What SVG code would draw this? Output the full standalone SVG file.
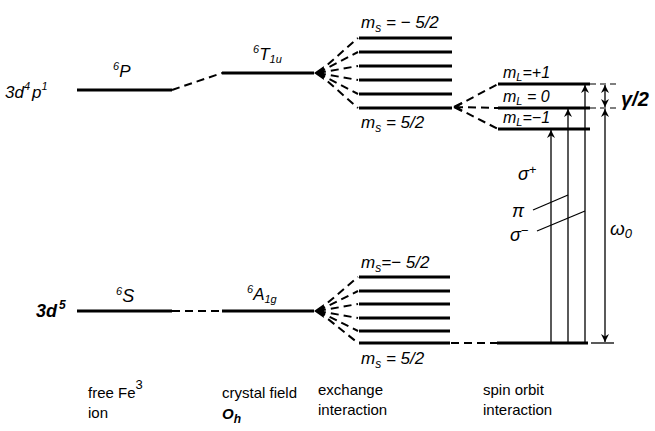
<svg xmlns="http://www.w3.org/2000/svg" width="655" height="431" viewBox="0 0 655 431">
<defs>
<marker id="ah" viewBox="0 0 10 10" refX="10" refY="5" markerWidth="8" markerHeight="8" markerUnits="userSpaceOnUse" orient="auto-start-reverse">
<path d="M0,0 L10,5 L0,10 L3,5 Z" fill="#000"/>
</marker>
</defs>
<style>
.lvl{stroke:#000;stroke-width:3.2;fill:none}
.lvl2{stroke:#000;stroke-width:3;fill:none}
.dash{stroke:#000;stroke-width:2;fill:none;stroke-dasharray:8 5}
.thin{stroke:#000;stroke-width:1.3;fill:none}
.tdash{stroke:#000;stroke-width:1.1;fill:none;stroke-dasharray:6 4}
.arr{stroke:#000;stroke-width:1.3;fill:none;marker-end:url(#ah)}
.arr2{stroke:#000;stroke-width:1.3;fill:none;marker-end:url(#ah);marker-start:url(#ah)}
.hl{font-family:"Liberation Sans",Arial,sans-serif;font-style:italic;fill:#000}
.cap{font-family:"Liberation Sans",Arial,sans-serif;font-size:15px;fill:#000}
.tip{fill:#000}
</style>

<g id="connectors">
<path class="dash" d="M172,90 L222,73"/>
<path class="dash" d="M172,311 L222,311"/>
<path class="dash" d="M318,73 L358,38 M318,73 L358,52 M318,73 L358,66 M318,73 L358,80 M318,73 L358,94 M318,73 L358,108"/>
<path class="dash" d="M318,311 L358,277 M318,311 L358,291 M318,311 L358,304 M318,311 L358,318 M318,311 L358,331 M318,311 L358,343"/>
<path class="dash" d="M455,107 L498,84 M455,107 L498,108 M455,107 L498,129"/>
<path class="dash" d="M451,343 L497,343"/>
<path class="tdash" d="M590,84 L618,84 M590,108 L618,108"/>
<path class="thin" d="M591,343 L614,343"/>
<path class="arr" d="M551,343 L551,130"/>
<path class="arr" d="M568,343 L568,109"/>
<path class="arr" d="M585,343 L585,85"/>
<path class="arr2" d="M605,85 L605,107"/>
<path class="arr2" d="M605,109 L605,342"/>
<path class="thin" d="M533,210 L568,195"/>
<path class="thin" d="M537,231 L585,211"/>
<path class="tip" d="M314,73 L324,66 L322,73 L324,80 Z"/>
<path class="tip" d="M314,311 L324,304 L322,311 L324,318 Z"/>
<path class="thin" d="M454,107 L462,103 M454,107 L462,111" style="stroke-width:2"/>
</g>

<g id="level-3d4p1">
<path class="lvl" d="M77,90 L172,90"/>
<text class="hl" x="5" y="98" font-size="17">3d<tspan font-size="11" dy="-8">4</tspan><tspan dy="8" dx="2">p</tspan><tspan font-size="11" dy="-8">1</tspan></text>
<text class="hl" x="113" y="77" font-size="17"><tspan font-size="11" dy="-7">6</tspan><tspan dy="7">P</tspan></text>
</g>

<g id="level-6T1u">
<path class="lvl" d="M222,73 L314,73"/>
<text class="hl" x="253" y="60" font-size="17"><tspan font-size="11" dy="-7">6</tspan><tspan dy="7">T</tspan><tspan font-size="11" dy="3">1u</tspan></text>
</g>

<g id="exchange-upper">
<path class="lvl" d="M359,38 L452,38 M359,52 L452,52 M359,66 L452,66 M359,80 L452,80 M359,94 L452,94 M359,108 L452,108"/>
<text class="hl" x="361" y="28" font-size="17">m<tspan font-size="12" dy="4">s</tspan><tspan dy="-4"> = − 5/2</tspan></text>
<text class="hl" x="361" y="128" font-size="17">m<tspan font-size="12" dy="4">s</tspan><tspan dy="-4"> = 5/2</tspan></text>
</g>

<g id="spin-orbit-levels">
<path class="lvl2" d="M498,84 L590,84 M498,108 L590,108 M498,129 L590,129"/>
<text class="hl" x="503" y="78" font-size="16">m<tspan font-size="11" dy="3">L</tspan><tspan dy="-3">=+1</tspan></text>
<text class="hl" x="503" y="102" font-size="16">m<tspan font-size="11" dy="3">L</tspan><tspan dy="-3"> = 0</tspan></text>
<text class="hl" x="503" y="123" font-size="16">m<tspan font-size="11" dy="3">L</tspan><tspan dy="-3">=−1</tspan></text>
</g>

<g id="gamma-label">
<text class="hl" x="621" y="106" font-size="20" font-weight="bold">γ/2</text>
</g>

<g id="omega-label">
<text class="hl" x="610" y="235" font-size="19">ω<tspan font-size="13" dy="3">0</tspan></text>
</g>

<g id="transition-labels">
<text class="hl" x="518" y="180" font-size="18">σ<tspan font-size="13" dy="-6">+</tspan></text>
<text class="hl" x="512" y="217" font-size="18">π</text>
<text class="hl" x="510" y="241" font-size="18">σ<tspan font-size="13" dy="-6">−</tspan></text>
</g>

<g id="level-3d5">
<path class="lvl" d="M77,311 L172,311"/>
<text class="hl" x="36" y="317" font-size="18" font-weight="bold">3d<tspan font-size="12" dy="-8" dx="2">5</tspan></text>
<text class="hl" x="116" y="302" font-size="18" font-style="normal"><tspan font-size="11" dy="-7">6</tspan><tspan dy="7">S</tspan></text>
</g>

<g id="level-6A1g">
<path class="lvl" d="M222,311 L314,311"/>
<text class="hl" x="247" y="300" font-size="17"><tspan font-size="11" dy="-7">6</tspan><tspan dy="7">A</tspan><tspan font-size="11" dy="3">1g</tspan></text>
</g>

<g id="exchange-lower">
<path class="lvl" d="M359,277 L450,277 M359,291 L450,291 M359,304 L450,304 M359,318 L450,318 M359,331 L450,331 M359,343 L450,343"/>
<text class="hl" x="361" y="268" font-size="17">m<tspan font-size="12" dy="4">s</tspan><tspan dy="-4">=− 5/2</tspan></text>
<text class="hl" x="361" y="364" font-size="17">m<tspan font-size="12" dy="4">s</tspan><tspan dy="-4"> = 5/2</tspan></text>
</g>

<g id="ground-level">
<path class="lvl" d="M497,343 L588,343"/>
</g>

<g id="captions">
<text class="cap" x="88" y="398">free Fe<tspan font-size="13" dy="-9">3</tspan></text>
<text class="cap" x="88" y="418">ion</text>
<text class="cap" x="222" y="398">crystal field</text>
<text class="cap" x="222" y="419" font-style="italic" font-weight="bold" font-size="16">O<tspan font-size="12" dy="4">h</tspan></text>
<text class="cap" x="318" y="395">exchange</text>
<text class="cap" x="318" y="415">interaction</text>
<text class="cap" x="483" y="395">spin orbit</text>
<text class="cap" x="483" y="415">interaction</text>
</g>
</svg>
